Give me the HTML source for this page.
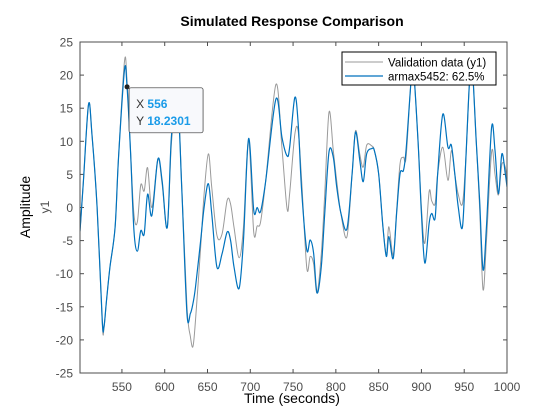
<!DOCTYPE html>
<html><head><meta charset="utf-8"><style>
body{margin:0;background:#fff;}
svg{display:block;font-family:"Liberation Sans",Arial,sans-serif;}
</style></head><body>
<svg id="chart" width="560" height="420">
<rect x="0" y="0" width="560" height="420" fill="#fff"/>
<text x="292" y="26" text-anchor="middle" font-size="14" font-weight="bold" fill="#000">Simulated Response Comparison</text>
<rect x="80" y="42" width="427" height="331" fill="#fff"/>
<g id="grid"></g>
<g id="series"></g>
<rect x="80" y="42" width="427" height="331" fill="none" stroke="#4d4d4d" stroke-width="1"/>
<text transform="translate(30,207) rotate(-90)" text-anchor="middle" font-size="14" fill="#000">Amplitude</text>
<text transform="translate(49,207) rotate(-90)" text-anchor="middle" font-size="12" fill="#4d4d4d">y1</text>
<text x="292" y="403" text-anchor="middle" font-size="14" fill="#000">Time (seconds)</text>
<g>
<rect x="342" y="52" width="154" height="33" fill="#fff" stroke="#000" stroke-width="1"/>
<line x1="345" y1="62" x2="383" y2="62" stroke="#999" stroke-width="1"/>
<text x="388" y="66.5" font-size="11.5" fill="#000">Validation data (y1)</text>
<line x1="345" y1="76" x2="383" y2="76" stroke="#0072BD" stroke-width="1.2"/>
<text x="388" y="80.5" font-size="11.5" fill="#000">armax5452: 62.5%</text>
</g>
<g id="tip"></g>
</svg>
<script>
const times=[501,505,511,515,521,527,529,532,536,542,546,553,556,560,564,568,572,576,580,585,592,597,603,608,615,620,626,630,633,636,642,646,651,655,661,667,673,677,681,687,692,698,704,708,712,718,730,737,743,746,752,756,760,766,770,774,778,783,787,792,797,801,806,813,819,823,828,832,836,842,845,850,855,859,862,867,871,875,879,882,887,890,896,900,904,909,912,916,919,925,931,935,939,943,948,952,956,959,964,968,972,976,982,986,990,994,998,1000];
const modelValues=[-3.6,4,15.6,11,0,-17,-18,-14,-9,-3,7.5,20.8,18.2,8.6,-3.4,-6.6,-3.5,-4,2,-1.2,7.3,4,-3,11,16,2.6,-16,-16,-14.5,-12,-5,0,3.6,-1,-9,-7,-3.7,-5,-9,-12.2,-5,10.4,-0.4,0,-0.6,4,16.4,10.6,7.8,9.1,16.6,12.6,2.6,-6.4,-4.9,-6.9,-12.9,-8.9,-0.9,8.4,7.6,3.1,-0.9,-3.2,5.1,11.4,7.1,3.9,8.1,8.9,8.6,5.1,-2.9,-7.4,-4.4,-7.7,-0.9,5.1,5.6,8.6,17.6,22,10.1,-0.9,-8.4,-2.4,-0.9,-1.6,5.1,14.1,9.1,9.4,5.1,0.1,-2.9,7.6,18.6,22,10.1,1.1,-9.4,-2.9,12.1,8.6,2.1,8.1,5.1,3.1];
const dataValues=[-3.6,4,15.6,11,0,-17.5,-18.3,-14,-9,-3,7.5,22.1,19,8.6,-1,-2.2,3.4,2.5,6,0,7.3,3.5,-3,10,16.5,3,-15,-19.5,-21,-17,-6,2,8.1,3,-4.2,-4,1.1,0.5,-3,-7.6,-3,10,-3.7,-2.8,-2.2,4,18.6,9,-0.2,2.1,11,11.5,4.1,-9.1,-7.4,-8.5,-12.9,-7,2,14.4,8.6,4,-1,-4.4,5.1,11.6,8,6.1,9.4,9.3,8.6,5.1,-2.9,-6.9,-2.9,-7.2,-0.5,6.6,7.6,7.5,17.6,22,10.1,0,-5.4,2.4,1,0.6,5.1,9.1,4.1,8.6,5,2,0.6,7.6,18.6,22,10.1,0,-12.4,-5,8.4,5,1.9,6.5,6.1,4];
const xTicks=[550,600,650,700,750,800,850,900,950,1000];
const yTicks=[-25,-20,-15,-10,-5,0,5,10,15,20,25];
const tipPoint=[556,18.2301];

const NS="http://www.w3.org/2000/svg";
const X0=80,X1=507,Y0=42,Y1=373,xmin=501,xmax=1000,ymin=-25,ymax=25;
function xs(t){return X0+(t-xmin)/(xmax-xmin)*(X1-X0);}
function ys(v){return Y1-(v-ymin)/(ymax-ymin)*(Y1-Y0);}
function mk(tag,attrs,parent){const e=document.createElementNS(NS,tag);for(const k in attrs)e.setAttribute(k,attrs[k]);parent.appendChild(e);return e;}
const grid=document.getElementById('grid');
xTicks.forEach(t=>{
  const x=xs(t);
  const a=mk('line',{x1:x,y1:Y1,x2:x,y2:Y1-4,stroke:'#4d4d4d'},grid);
  
  
  const b=mk('line',{x1:x,y1:Y0,x2:x,y2:Y0+4,stroke:'#4d4d4d'},grid);
  
  
  const l=mk('text',{x:x,y:Y1+18,'text-anchor':'middle','font-size':'12',fill:'#4d4d4d'},grid);
  l.textContent=t;
  
  
});
yTicks.forEach(v=>{
  const y=ys(v);
  const a=mk('line',{x1:X0,y1:y,x2:X0+4,y2:y,stroke:'#4d4d4d'},grid);
  
  
  const b=mk('line',{x1:X1,y1:y,x2:X1-4,y2:y,stroke:'#4d4d4d'},grid);
  
  
  const l=mk('text',{x:X0-7,y:y+4.5,'text-anchor':'end','font-size':'12',fill:'#4d4d4d'},grid);
  l.textContent=v;
  
  
});
function pathFor(vals){
  const p=times.map((t,i)=>[xs(t),ys(vals[i])]);
  let d='M'+p[0][0].toFixed(2)+','+p[0][1].toFixed(2);
  for(let i=0;i<p.length-1;i++){
    const p0=p[Math.max(0,i-1)],p1=p[i],p2=p[i+1],p3=p[Math.min(p.length-1,i+2)];
    const c1=[p1[0]+(p2[0]-p0[0])/6,p1[1]+(p2[1]-p0[1])/6];
    const c2=[p2[0]-(p3[0]-p1[0])/6,p2[1]-(p3[1]-p1[1])/6];
    d+='C'+c1[0].toFixed(2)+','+c1[1].toFixed(2)+' '+c2[0].toFixed(2)+','+c2[1].toFixed(2)+' '+p2[0].toFixed(2)+','+p2[1].toFixed(2);
  }
  return d;
}
const ser=document.getElementById('series');
const clip=mk('clipPath',{id:'clp'},ser);
mk('rect',{x:X0,y:Y0,width:X1-X0,height:Y1-Y0},clip);
const g1=mk('path',{d:pathFor(dataValues),fill:'none',stroke:'#9a9a9a','stroke-width':'1','clip-path':'url(#clp)'},ser);


const g2=mk('path',{d:pathFor(modelValues),fill:'none',stroke:'#0072BD','stroke-width':'1.2','clip-path':'url(#clp)'},ser);


// data tip
const tip=document.getElementById('tip');
const tx=xs(tipPoint[0]),ty=ys(tipPoint[1]);
const box=mk('rect',{x:tx+2,y:ty+1,width:74,height:45,rx:2,fill:'#f8f9fc',stroke:'#333','stroke-width':'0.7'},tip);


const dot=mk('circle',{cx:tx,cy:ty,r:2.5,fill:'#222'},tip);


const t1=mk('text',{x:tx+9,y:ty+21,'font-size':'12',fill:'#333'},tip);
t1.innerHTML='X <tspan font-weight="bold" fill="#1a9be8">'+tipPoint[0]+'</tspan>';


const t2=mk('text',{x:tx+9,y:ty+38,'font-size':'12',fill:'#333'},tip);
t2.innerHTML='Y <tspan font-weight="bold" fill="#1a9be8">'+tipPoint[1].toFixed(4)+'</tspan>';


</script>
</body></html>
